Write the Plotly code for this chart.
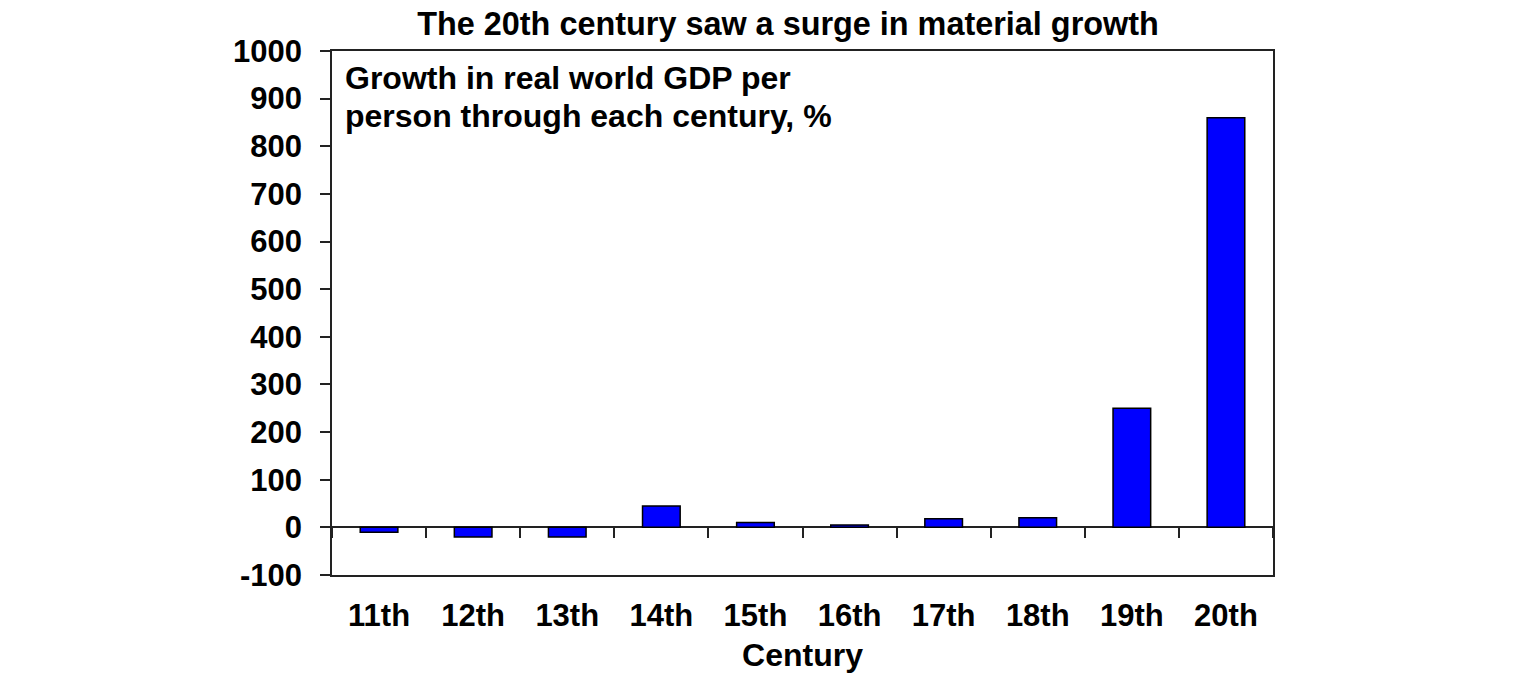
import plotly.graph_objects as go

categories = ["11th", "12th", "13th", "14th", "15th", "16th", "17th", "18th", "19th", "20th"]
growth_pct = [-10, -20, -20, 45, 10, 5, 18, 20, 250, 860]
y_ticks = [-100, 0, 100, 200, 300, 400, 500, 600, 700, 800, 900, 1000]
y_tick_labels = [str(v) for v in y_ticks]

title_text = "The 20th century saw a surge in material growth"
note_lines = ["Growth in real world GDP per", "person through each century, %"]
x_title = "Century"

FONT = "Arial, Liberation Sans, sans-serif"
y_min, y_max = -100, 1000

fig = go.Figure()
fig.add_trace(go.Bar(
    x=categories, y=growth_pct,
    marker=dict(color="#0000FF", line=dict(color="black", width=1.5)),
    hoverinfo="x+y", showlegend=False,
))
# invisible trace to carry the boundary ticks drawn on the zero line
fig.add_trace(go.Scatter(
    x=categories, y=growth_pct, xaxis="x2", mode="markers",
    marker=dict(opacity=0), hoverinfo="skip", showlegend=False,
))

fig.update_layout(
    width=1536, height=680,
    margin=dict(l=332, r=263, t=51, b=105),
    paper_bgcolor="white", plot_bgcolor="white",
    bargap=0.6,
    font=dict(family=FONT, color="black"),
    title=dict(text=title_text, x=788/1536, xanchor="center",
               y=1 - 24/680, yanchor="middle", yref="container",
               font=dict(size=32.4, weight="bold", family=FONT, color="black")),
    xaxis=dict(
        type="category", categoryorder="array", categoryarray=categories,
        range=[-0.5, len(categories) - 0.5],
        showline=True, linecolor="#222", linewidth=1.5, mirror=True,
        ticks="", showgrid=False,
        tickfont=dict(size=31, weight="bold", family=FONT, color="black"),
        ticklabelstandoff=12,
        title=dict(text=x_title, standoff=12,
                   font=dict(size=32, weight="bold", family=FONT, color="black")),
    ),
    xaxis2=dict(
        type="category", categoryorder="array", categoryarray=categories,
        range=[-0.5, len(categories) - 0.5],
        overlaying="x", anchor="free",
        position=(0 - y_min) / (y_max - y_min),
        tickson="boundaries", ticks="outside", ticklen=10, tickwidth=1.5, tickcolor="#222",
        showticklabels=False, showline=False, showgrid=False,
    ),
    yaxis=dict(
        range=[y_min, y_max], tickvals=y_ticks, ticktext=y_tick_labels,
        showline=True, linecolor="#222", linewidth=1.5, mirror=True,
        ticks="outside", ticklen=10, tickwidth=1.5, tickcolor="#222",
        showgrid=False,
        zeroline=True, zerolinecolor="#222", zerolinewidth=1.5,
        tickfont=dict(size=31, weight="bold", family=FONT, color="black"),
        ticklabelstandoff=12,
    ),
    annotations=[
        dict(text=note_lines[0], xref="paper", yref="paper",
             x=0.012, y=1 - (78 - 51) / 524, xanchor="left", yanchor="middle",
             align="left", showarrow=False,
             font=dict(size=32, weight="bold", family=FONT, color="black")),
        dict(text=note_lines[1], xref="paper", yref="paper",
             x=0.012, y=1 - (116 - 51) / 524, xanchor="left", yanchor="middle",
             align="left", showarrow=False,
             font=dict(size=32, weight="bold", family=FONT, color="black")),
    ],
)

fig.write_html("out.html")
